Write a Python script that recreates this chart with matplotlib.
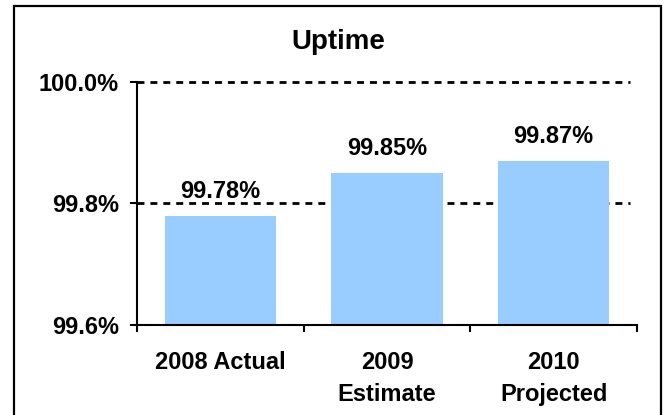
import matplotlib
matplotlib.use("Agg")
import matplotlib.pyplot as plt
from matplotlib.patches import Rectangle

# data
categories = ["2008 Actual", "2009\nEstimate", "2010\nProjected"]
uptime = [99.78, 99.85, 99.87]
yticks = [99.6, 99.8, 100.0]
ytick_labels = ["99.6%", "99.8%", "100.0%"]

plt.rcParams['font.family'] = ['Liberation Sans', 'DejaVu Sans']
plt.rcParams['font.weight'] = 'bold'
plt.rcParams['lines.scale_dashes'] = False

fig = plt.figure(figsize=(6.66, 4.15), dpi=100)
ax = fig.add_axes([137 / 666, 1 - 325 / 415, 500 / 666, 243 / 415])

x = list(range(len(categories)))
ax.bar(x, uptime, width=0.667, color="#99CCFF", zorder=2)
ax.set_xlim(-0.5, 2.5)
ax.set_ylim(99.6, 100.0)

# dashed gridlines
for yv in yticks[1:]:
    ax.plot([-0.5, 2.46], [yv, yv], color="black", lw=2.0,
            dashes=(5, 4.3), zorder=1, clip_on=False)

# value labels
for xi, v in zip(x, uptime):
    ax.annotate(f"{v:.2f}%", (xi, v), xytext=(0, 13), textcoords="offset points",
                ha="center", va="baseline", fontsize=17, fontweight="bold")

ax.set_yticks(yticks)
ax.set_yticklabels(ytick_labels, fontsize=17, fontweight="bold")
ax.tick_params(axis="y", direction="out", length=5, width=1.5, pad=8)

# category boundary ticks, labels centred in between
ax.set_xticks([-0.5, 0.5, 1.5, 2.5])
ax.set_xticklabels([])
ax.tick_params(axis="x", direction="out", length=5, width=1.5)
ax.set_xticks(x, minor=True)
ax.set_xticklabels(categories, minor=True, fontsize=17, fontweight="bold",
                   linespacing=1.5)
ax.tick_params(axis="x", which="minor", length=0, pad=19)

for s in ["top", "right"]:
    ax.spines[s].set_visible(False)
for s in ["left", "bottom"]:
    ax.spines[s].set_linewidth(1.5)

fig.text(338 / 666, 1 - 49 / 415, "Uptime", ha="center", va="baseline",
         fontsize=20, fontweight="bold")

# outer frame (bottom edge runs off the image)
fig.patches.append(Rectangle((14 / 666, -0.02), 647 / 666, 1.02 - 6 / 415,
                             transform=fig.transFigure, fill=False,
                             edgecolor="black", lw=1.6))

fig.savefig("out.png", dpi=100)
